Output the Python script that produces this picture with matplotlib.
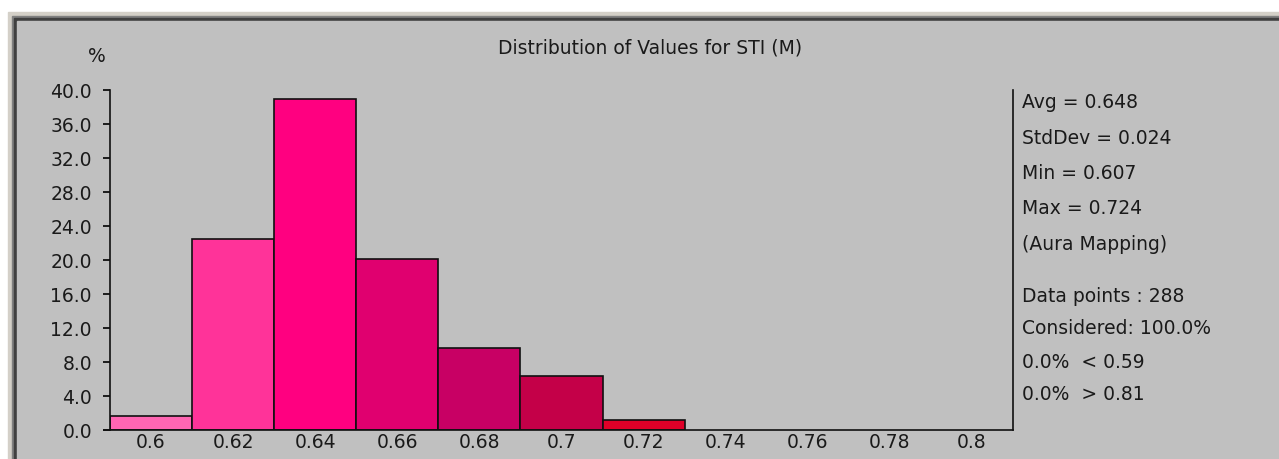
import matplotlib
matplotlib.use('Agg')
import matplotlib.pyplot as plt
from matplotlib.patches import Rectangle

# Data
binCenters = [0.60, 0.62, 0.64, 0.66, 0.68, 0.70, 0.72]
percentValues = [1.6, 22.5, 38.9, 20.1, 9.7, 6.3, 1.2]
barColors = ['#ff66b3', '#ff3399', '#ff0080', '#e0006f', '#c80064', '#c40048', '#e00028']
xTicks = [0.60, 0.62, 0.64, 0.66, 0.68, 0.70, 0.72, 0.74, 0.76, 0.78, 0.80]
xTickLabels = ['0.6', '0.62', '0.64', '0.66', '0.68', '0.7', '0.72', '0.74', '0.76', '0.78', '0.8']
yTicks = [0, 4, 8, 12, 16, 20, 24, 28, 32, 36, 40]
statLines = ['Avg = 0.648', 'StdDev = 0.024', 'Min = 0.607', 'Max = 0.724', '(Aura Mapping)']
countLines = ['Data points : 288', 'Considered: 100.0%', '0.0%  < 0.59', '0.0%  > 0.81']
binWidth = 0.02

W, H = 1279, 459
fs = 13.5
txtColor = '#1a1a1a'
plt.rcParams['font.family'] = ['DejaVu Sans']
fig = plt.figure(figsize=[W / 100, H / 100], dpi=100)
fig.patch.set_facecolor('white')

def px(x0, y0, w, h, color):
    # rectangle in pixel coords from the top-left corner
    fig.patches.append(Rectangle((x0 / W, 1 - (y0 + h) / H), w / W, h / H,
                                 transform=fig.transFigure, color=color, zorder=-5))

# window frame
px(8, 12, W, H, '#d4d0c8')
px(12, 16, W, H, '#808080')
px(14, 18, W, H, '#404040')
px(17, 21, W, H, '#c0c0c0')

ax = fig.add_axes([110 / W, 1 - 430 / H, (1013 - 110) / W, (430 - 90) / H])
ax.set_zorder(2)
ax.set_facecolor('none')
ax.bar(binCenters, percentValues, width=binWidth, color=barColors,
       edgecolor='#101010', linewidth=1.2)

ax.set_xlim(0.59, 0.81)
ax.set_ylim(0, 40)
ax.set_yticks(yTicks)
ax.set_yticklabels(['%.1f' % v for v in yTicks], fontsize=fs, color=txtColor)
ax.set_xticks(xTicks)
ax.set_xticklabels(xTickLabels, fontsize=fs, color=txtColor)
ax.tick_params(axis='x', length=0, pad=2)
ax.tick_params(axis='y', length=5, width=1.2, direction='out', pad=8)

ax.spines['top'].set_visible(False)
for s in ['left', 'right', 'bottom']:
    ax.spines[s].set_color('#101010')
    ax.spines[s].set_linewidth(1.2)
ax.spines['bottom'].set_bounds(0.5885, 0.81)

fig.text(97 / W, 1 - 57 / H, '%', fontsize=fs, ha='center', va='center', color=txtColor)
fig.text(650 / W, 1 - 48 / H, 'Distribution of Values for STI (M)', fontsize=fs,
         ha='center', va='center', color=txtColor)

for i, line in enumerate(statLines):
    fig.text(1022 / W, 1 - (103 + i * 35.3) / H, line, fontsize=fs, ha='left',
             va='center', color=txtColor)
for i, line in enumerate(countLines):
    fig.text(1022 / W, 1 - (296 + i * 33) / H, line, fontsize=fs, ha='left',
             va='center', color=txtColor)

fig.savefig('out.png', dpi=100, facecolor=fig.get_facecolor())
